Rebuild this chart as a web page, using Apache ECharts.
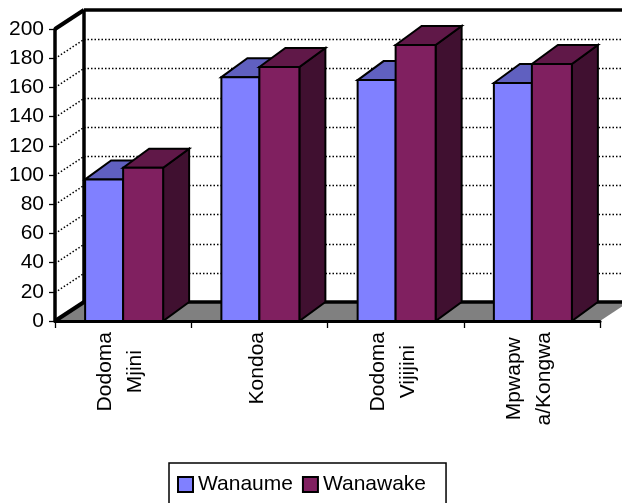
<!DOCTYPE html>
<html><head><meta charset="utf-8">
<style>html,body{margin:0;padding:0;background:#fff}#c{width:622px;height:503px}</style>
<script src="https://cdn.jsdelivr.net/npm/echarts@6/dist/echarts.min.js"></script>
</head><body><div id="c"></div>
<script>
const categories = ['Dodoma\nMjini', 'Kondoa', 'Dodoma\nVijijini', 'Mpwapw\na/Kongwa'];
const wanaume = [97, 167, 165, 163];
const wanawake = [105, 174, 189, 176];
const yTicks = [20, 40, 60, 80, 100, 120, 140, 160, 180];

const WALL_DX = 29, WALL_DY = 19, BAR_DX = 26, BAR_DY = 19;
const BLACK = '#000';
const FONT = '"Liberation Sans", Arial, sans-serif';
const chart = echarts.init(document.getElementById('c'), null, {renderer: 'canvas'});

function poly(points, fill, width) {
  return {type: 'polygon', shape: {points}, style: {fill, stroke: BLACK, lineWidth: width, lineJoin: 'miter'}};
}
function line(a, b, width, dash) {
  return {type: 'line', shape: {x1: a[0], y1: a[1], x2: b[0], y2: b[1]},
    style: {stroke: BLACK, lineWidth: width, lineDash: dash || null, fill: null}};
}
function wallItem(params, api) {
  const g = params.coordSys;
  const L = g.x, R = g.x + g.width, T = api.coord([0, 200])[1], B = api.coord([0, 0])[1];
  return {type: 'group', children: [
    poly([[L, B], [L + WALL_DX, B - WALL_DY], [R + WALL_DX, B - WALL_DY], [R, B]], '#808080', 0),
    line([L + WALL_DX, B - WALL_DY], [R + WALL_DX, B - WALL_DY], 3.5),
    line([L + WALL_DX, T - WALL_DY], [L + WALL_DX, B - WALL_DY], 3.5),
    line([L + WALL_DX, T - WALL_DY], [R + WALL_DX, T - WALL_DY], 3.5),
    line([L, T], [L + WALL_DX, T - WALL_DY], 4),
    line([L, B], [L + WALL_DX, B - WALL_DY], 4)
  ]};
}
function gridItem(params, api) {
  const g = params.coordSys;
  const y = Math.round(api.coord([0, api.value(0)])[1]) + 0.5;
  const L = g.x, R = g.x + g.width + WALL_DX;
  return {type: 'group', children: [
    line([L, y], [L + WALL_DX, y - WALL_DY], 1.5, [1.5, 2]),
    line([L + WALL_DX, y - WALL_DY], [R, y - WALL_DY], 1.5, [1.5, 2])
  ]};
}
function barRenderer(from, to, front, top, side) {
  return function (params, api) {
    const c = api.coord([api.value(0), api.value(1)]);
    const y0 = api.coord([api.value(0), 0])[1];
    const x0 = c[0] + from, x1 = c[0] + to, y1 = c[1];
    return {type: 'group', children: [
      poly([[x1, y1], [x1 + BAR_DX, y1 - BAR_DY], [x1 + BAR_DX, y0 - BAR_DY], [x1, y0]], side, 2),
      poly([[x0, y1], [x0 + BAR_DX, y1 - BAR_DY], [x1 + BAR_DX, y1 - BAR_DY], [x1, y1]], top, 2),
      poly([[x0, y1], [x1, y1], [x1, y0], [x0, y0]], front, 2)
    ]};
  };
}
chart.setOption({
  animation: false,
  textStyle: {fontFamily: FONT},
  grid: {left: 55, top: 29, width: 545, height: 292, containLabel: false},
  xAxis: {
    type: 'category', z: 6,
    data: categories,
    axisLine: {lineStyle: {color: BLACK, width: 3}},
    axisTick: {show: true, alignWithLabel: false, length: 7, lineStyle: {color: BLACK, width: 1.3}},
    axisLabel: {interval: 0, rotate: 90, margin: 11, padding: [0, 0, 5, 0],
      color: BLACK, fontSize: 21, lineHeight: 30, hideOverlap: false, fontFamily: FONT,
      formatter: v => v.split('\n').map(s => '{c|' + s + '}').join('\n'),
      rich: {c: {align: 'center', color: BLACK, fontSize: 21, lineHeight: 30, fontFamily: FONT}}},
    splitLine: {show: false}
  },
  yAxis: {
    type: 'value', min: 0, max: 200, interval: 20, z: 6,
    axisLine: {show: true, lineStyle: {color: BLACK, width: 3.5}},
    axisTick: {show: true, length: 6, lineStyle: {color: BLACK, width: 1.3}},
    axisLabel: {color: BLACK, fontSize: 21, margin: 11, fontFamily: FONT},
    splitLine: {show: false}
  },
  legend: {
    data: ['Wanaume', 'Wanawake'], left: 169, top: 463,
    orient: 'horizontal', icon: 'rect', itemWidth: 15, itemHeight: 15, itemGap: 9,
    padding: [11, 20, 11, 8],
    borderColor: BLACK, borderWidth: 1.5, backgroundColor: '#fff',
    textStyle: {color: BLACK, fontSize: 21, fontFamily: FONT}
  },
  series: [
    {name: 'wall', type: 'custom', z: 1, silent: true, clip: false, data: [[0, 0]], renderItem: wallItem},
    {name: 'grid', type: 'custom', z: 2, silent: true, clip: false, data: yTicks.map(v => [v]), renderItem: gridItem},
    {name: 'Wanaume', type: 'custom', z: 3, clip: false,
      itemStyle: {color: '#8080FF', borderColor: BLACK, borderWidth: 2},
      data: wanaume.map((v, i) => [i, v]), encode: {x: 0, y: 1},
      renderItem: barRenderer(-38, 0, '#8080FF', '#6060C0', '#404080')},
    {name: 'Wanawake', type: 'custom', z: 4, clip: false,
      itemStyle: {color: '#802060', borderColor: BLACK, borderWidth: 2},
      data: wanawake.map((v, i) => [i, v]), encode: {x: 0, y: 1},
      renderItem: barRenderer(0, 40, '#802060', '#601848', '#401030')}
  ]
});
</script></body></html>
